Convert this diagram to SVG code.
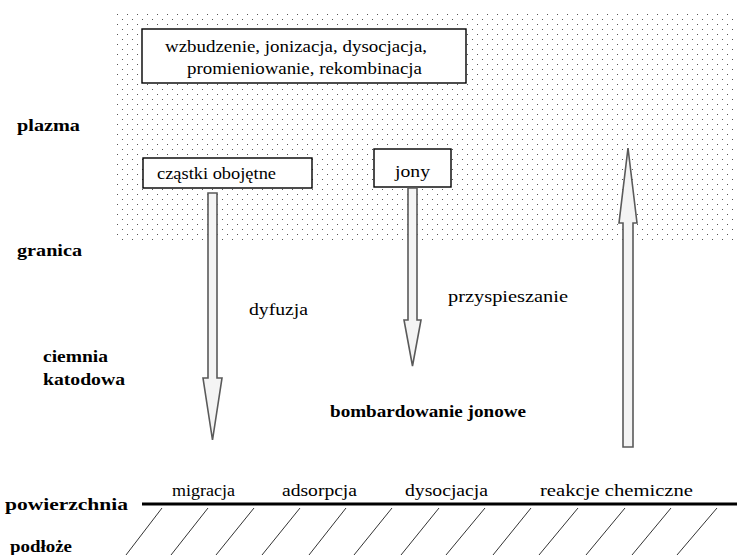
<svg xmlns="http://www.w3.org/2000/svg" width="737" height="555" viewBox="0 0 737 555">
<defs>
<pattern id="dots" patternUnits="userSpaceOnUse" x="0" y="0" width="10" height="10">
<rect x="7" y="4" width="1" height="1" fill="#555"/>
<rect x="2" y="9" width="1" height="1" fill="#555"/>
</pattern>
<style>
text{font-size:16px;fill:#000}
.b{font-weight:bold}
.box{fill:#fff;stroke:#000;stroke-width:1.4}
.arr{fill:#f4f4f4;stroke:#5a5a5a;stroke-width:1.6;stroke-linejoin:miter}
.hatch{stroke:#333;stroke-width:1}
</style>
</defs>
<rect width="737" height="555" fill="#fff"/>
<rect id="plasma" x="116" y="12" width="621" height="232" fill="url(#dots)"/>

<g font-family="Liberation Serif, DejaVu Serif, serif">
<g id="labels">
<text class="b" x="17" y="131" textLength="63" lengthAdjust="spacingAndGlyphs">plazma</text>
<text class="b" x="17" y="256" textLength="65" lengthAdjust="spacingAndGlyphs">granica</text>
<text class="b" x="43" y="362" textLength="65" lengthAdjust="spacingAndGlyphs">ciemnia</text>
<text class="b" x="43" y="385" textLength="82" lengthAdjust="spacingAndGlyphs">katodowa</text>
<text class="b" x="5" y="510" textLength="123" lengthAdjust="spacingAndGlyphs">powierzchnia</text>
<text class="b" x="10" y="552" textLength="62" lengthAdjust="spacingAndGlyphs">podłoże</text>
<text x="249" y="315" textLength="59" lengthAdjust="spacingAndGlyphs">dyfuzja</text>
<text x="448" y="302" textLength="120" lengthAdjust="spacingAndGlyphs">przyspieszanie</text>
<text class="b" x="330" y="417" textLength="196" lengthAdjust="spacingAndGlyphs">bombardowanie jonowe</text>
<text x="172" y="496" textLength="63" lengthAdjust="spacingAndGlyphs">migracja</text>
<text x="282" y="496" textLength="75" lengthAdjust="spacingAndGlyphs">adsorpcja</text>
<text x="405" y="496" textLength="83" lengthAdjust="spacingAndGlyphs">dysocjacja</text>
<text x="540" y="496" textLength="153" lengthAdjust="spacingAndGlyphs">reakcje chemiczne</text>
</g>

<g id="box-processes">
<rect class="box" x="142" y="29" width="324" height="54"/>
<text x="165" y="52" textLength="262" lengthAdjust="spacingAndGlyphs">wzbudzenie, jonizacja, dysocjacja,</text>
<text x="187" y="74" textLength="235" lengthAdjust="spacingAndGlyphs">promieniowanie, rekombinacja</text>
</g>

<g id="box-neutral">
<rect class="box" x="143" y="158" width="169" height="30"/>
<text x="157" y="179" textLength="119" lengthAdjust="spacingAndGlyphs">cząstki obojętne</text>
</g>

<g id="box-ions">
<rect class="box" x="374" y="149" width="77" height="38"/>
<text x="395" y="177" textLength="35" lengthAdjust="spacingAndGlyphs">jony</text>
</g>
</g>

<g id="connectors">
<polygon class="arr" points="208,193 217,193 217,378 222,378 212.5,440 203,378 208,378"/>
<polygon class="arr" points="408,188 417,188 417,320 421,320 412.5,366 404,320 408,320"/>
<polygon class="arr" points="623,447 633,447 633,223 637,223 628,148 619,223 623,223"/>
</g>

<g id="surface">
<line x1="142" y1="504" x2="737" y2="504" stroke="#000" stroke-width="3"/>
<g class="hatch">
<line x1="162" y1="508" x2="126" y2="555"/>
<line x1="208" y1="508" x2="171" y2="555"/>
<line x1="254" y1="508" x2="216" y2="555"/>
<line x1="300" y1="508" x2="262" y2="555"/>
<line x1="346" y1="508" x2="309" y2="555"/>
<line x1="392" y1="508" x2="354" y2="555"/>
<line x1="439" y1="508" x2="401" y2="555"/>
<line x1="485" y1="508" x2="446" y2="555"/>
<line x1="531" y1="508" x2="493" y2="555"/>
<line x1="578" y1="508" x2="539" y2="555"/>
<line x1="625" y1="508" x2="586" y2="555"/>
<line x1="671" y1="508" x2="632" y2="555"/>
<line x1="717" y1="508" x2="677" y2="555"/>
</g>
</g>
</svg>
